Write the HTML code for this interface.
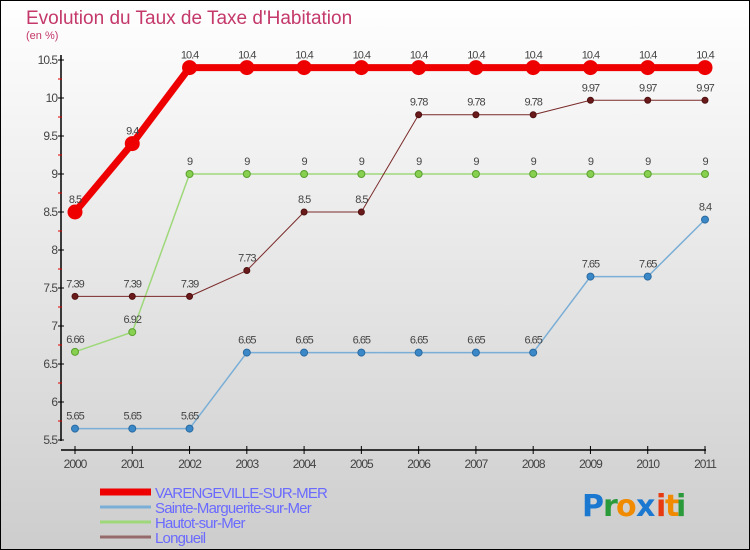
<!DOCTYPE html>
<html><head><meta charset="utf-8"><style>
body{margin:0;width:750px;height:550px;overflow:hidden}
svg{display:block;font-family:"Liberation Sans",sans-serif}
</style></head><body>
<svg id="c" width="750" height="550" xmlns="http://www.w3.org/2000/svg">
<defs><linearGradient id="bg" x1="0" y1="0" x2="0" y2="1"><stop offset="0" stop-color="#ffffff"/><stop offset="1" stop-color="#cdcdcd"/></linearGradient></defs>
<rect x="0.5" y="0.5" width="749" height="549" fill="url(#bg)" stroke="#000"/>
<text x="26" y="24" font-size="19" fill="#c4386a">Evolution du Taux de Taxe d'Habitation</text>
<text x="26" y="39" font-size="11" fill="#c4386a">(en %)</text>
<g id="axes"></g><g id="series"></g><g id="legend"></g>
<g font-size="30" font-weight="bold" font-family="'DejaVu Sans',sans-serif">
<text x="582" y="516" fill="#1a78d0">P</text><text x="603" y="516" fill="#2a9a3a">r</text><text x="616" y="516" fill="#f08a00">o</text><text x="636" y="516" fill="#1a78d0">x</text><text x="656" y="516" fill="#e83a10">i</text><text x="665" y="516" fill="#f08a00">t</text><text x="676" y="516" fill="#2a9a3a">i</text></g>
</svg>
<script>
const years=[2000,2001,2002,2003,2004,2005,2006,2007,2008,2009,2010,2011];
const varengeville=[8.5,9.4,10.4,10.4,10.4,10.4,10.4,10.4,10.4,10.4,10.4,10.4];
const sainteMarguerite=[5.65,5.65,5.65,6.65,6.65,6.65,6.65,6.65,6.65,7.65,7.65,8.4];
const hautot=[6.66,6.92,9,9,9,9,9,9,9,9,9,9];
const longueil=[7.39,7.39,7.39,7.73,8.5,8.5,9.78,9.78,9.78,9.97,9.97,9.97];
const yTicks=[5.5,6,6.5,7,7.5,8,8.5,9,9.5,10,10.5];
const NS="http://www.w3.org/2000/svg";
const X=i=>75+i*(630/11);
const Y=v=>440-(v-5.5)*76;
function mk(p,t,a){const e=document.createElementNS(NS,t);for(const k in a)e.setAttribute(k,a[k]);p.appendChild(e);return e;}
const ax=document.getElementById('axes');
let l=mk(ax,'line',{x1:61,y1:55,x2:61,y2:441,stroke:'#000','stroke-width':1.5});


l=mk(ax,'line',{x1:61,y1:450,x2:706,y2:450,stroke:'#000','stroke-width':1.5});


yTicks.forEach((v,i)=>{
 mk(ax,'line',{x1:58,y1:Y(v),x2:64,y2:Y(v),stroke:'#000'});
 if(i<yTicks.length-1)mk(ax,'line',{x1:58,y1:Y(v+0.25),x2:62,y2:Y(v+0.25),stroke:'#d00'});
 const t=mk(ax,'text',{x:57,y:Y(v)+4,'text-anchor':'end','font-size':12,fill:'#444','letter-spacing':'-1'});
 t.textContent=String(v);
 
 
});
years.forEach((y,i)=>{
 mk(ax,'line',{x1:X(i),y1:446,x2:X(i),y2:454,stroke:'#000'});
 const t=mk(ax,'text',{x:X(i),y:468,'text-anchor':'middle','font-size':12,fill:'#444','letter-spacing':'-1'});
 t.textContent=String(y);
 
 
});
const S=document.getElementById('series');
function series(name,vals,color,lw,r,dot,dstroke){
 const g=mk(S,'g',{});
 
 
 mk(g,'polyline',{points:vals.map((v,i)=>X(i)+','+Y(v)).join(' '),fill:'none',stroke:color,'stroke-width':lw,'stroke-linejoin':'round'});
 vals.forEach((v,i)=>{
  const c=mk(g,'circle',{cx:X(i),cy:Y(v),r:r,fill:dot,stroke:dstroke,'stroke-width':1});
  
  
  const t=mk(g,'text',{x:X(i),y:Y(v)-9,'text-anchor':'middle','font-size':11,fill:'#444','letter-spacing':'-1'});
  t.textContent=String(v);
  
  
 });
}
series('sainte-marguerite-series',sainteMarguerite,'#7aaed6',1.5,3.5,'#3a88c8','#2a6aa0');
series('hautot-series',hautot,'#9ed87a',1.5,3.5,'#88d050','#5aa030');
series('longueil-series',longueil,'#7a2a2a',1,3,'#6a1a1a','#501010');
series('varengeville-series',varengeville,'#ee0000',7,7,'#ee0000','#ee0000');
const L=document.getElementById('legend');
const leg=[['VARENGEVILLE-SUR-MER','#ee0000',7],['Sainte-Marguerite-sur-Mer','#7aaed6',3],['Hautot-sur-Mer','#9ed87a',3],['Longueil','#956a6a',3]];
leg.forEach((e,i)=>{
 const g=mk(L,'g',{});
 
 
 const y=492+i*15;
 mk(g,'line',{x1:100,y1:y,x2:151,y2:y,stroke:e[1],'stroke-width':e[2]});
 const t=mk(g,'text',{x:155,y:y+6,'font-size':15,fill:'#6a6aff','letter-spacing':'-0.8'});
 t.textContent=e[0];
});
</script>
</body></html>
